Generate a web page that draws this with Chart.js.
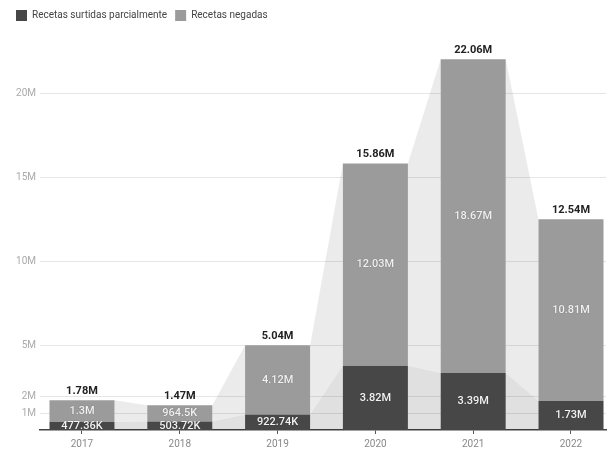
<!DOCTYPE html>
<html>
<head>
<meta charset="utf-8">
<script src="https://cdn.jsdelivr.net/npm/chart.js@4/dist/chart.umd.min.js"></script>
<style>
  html, body { margin: 0; padding: 0; background: #fff; }
  #wrap { width: 611px; height: 453px; position: relative; }
</style>
</head>
<body>
<div id="wrap"><canvas id="c"></canvas></div>
<script>
const categories = ['2017', '2018', '2019', '2020', '2021', '2022'];
const seriesNames = ['Recetas surtidas parcialmente', 'Recetas negadas'];
const parcial = [477360, 503720, 922740, 3824000, 3390000, 1730000];
const negadas = [1300000, 964500, 4120000, 12034000, 18670000, 10810000];
const yTickValues = [1000000, 2000000, 5000000, 10000000, 15000000, 20000000];

function fmt(v) {
  if (v >= 1e6) return parseFloat((v / 1e6).toFixed(2)) + 'M';
  if (v >= 1e3) return parseFloat((v / 1e3).toFixed(2)) + 'K';
  return String(v);
}

const FONT = 'Roboto, "Noto Sans", sans-serif';

const connectorPlugin = {
  id: 'connectors',
  beforeDatasetsDraw(chart) {
    const ctx = chart.ctx;
    const fills = ['rgba(0,0,0,0.12)', 'rgba(0,0,0,0.08)'];
    ctx.save();
    chart.data.datasets.forEach((ds, d) => {
      const meta = chart.getDatasetMeta(d);
      ctx.fillStyle = fills[d];
      for (let i = 0; i < meta.data.length - 1; i++) {
        const a = meta.data[i], b = meta.data[i + 1];
        const ax = a.x + a.width / 2, bx = b.x - b.width / 2;
        ctx.beginPath();
        ctx.moveTo(ax, a.y);
        ctx.lineTo(bx, b.y);
        ctx.lineTo(bx, b.base);
        ctx.lineTo(ax, a.base);
        ctx.closePath();
        ctx.fill();
      }
    });
    ctx.restore();
  }
};

const labelPlugin = {
  id: 'barLabels',
  afterDatasetsDraw(chart) {
    const ctx = chart.ctx;
    ctx.save();
    ctx.textAlign = 'center';
    ctx.textBaseline = 'middle';
    chart.data.datasets.forEach((ds, d) => {
      const meta = chart.getDatasetMeta(d);
      meta.data.forEach((el, i) => {
        const v = ds.data[i].y;
        ctx.font = '500 11px ' + FONT;
        ctx.fillStyle = '#f2f2f2';
        ctx.shadowColor = 'rgba(0,0,0,0.35)';
        ctx.shadowBlur = 1;
        ctx.fillText(fmt(v), el.x, (el.y + el.base) / 2);
      });
    });
    ctx.shadowBlur = 0;
    ctx.shadowColor = 'transparent';
    const top = chart.getDatasetMeta(1);
    top.data.forEach((el, i) => {
      const total = parcial[i] + negadas[i];
      ctx.font = 'bold 11px ' + FONT;
      ctx.fillStyle = '#222';
      ctx.fillText(fmt(total), el.x, el.y - 9);
    });
    ctx.restore();
  }
};

new Chart(document.getElementById('c'), {
  type: 'bar',
  data: {
    datasets: [
      {
        label: seriesNames[0],
        data: parcial.map((v, i) => ({ x: i, y: v })),
        backgroundColor: '#474747',
        borderWidth: 0
      },
      {
        label: seriesNames[1],
        data: negadas.map((v, i) => ({ x: i, y: v })),
        backgroundColor: '#9b9b9b',
        borderWidth: 0
      }
    ]
  },
  options: {
    responsive: true,
    maintainAspectRatio: false,
    animation: false,
    layout: { padding: { left: 8, right: 5, top: 2, bottom: 0 } },
    datasets: { bar: { barPercentage: 0.665, categoryPercentage: 1 } },
    plugins: {
      tooltip: { enabled: false },
      legend: {
        position: 'top',
        align: 'start',
        labels: {
          boxWidth: 11,
          boxHeight: 11,
          padding: 8,
          color: '#444',
          font: { family: FONT, size: 10 }
        }
      }
    },
    scales: {
      x: {
        type: 'linear',
        stacked: true,
        offset: false,
        min: -0.4294,
        max: 5.358,
        afterBuildTicks(s) { s.ticks = categories.map((c, i) => ({ value: i })); },
        afterFit(s) { s.height = 23; },
        ticks: {
          callback: (v) => categories[v],
          color: '#888',
          font: { family: FONT, size: 10 },
          padding: 4,
          maxRotation: 0
        },
        grid: { offset: false, drawOnChartArea: false, drawTicks: true, tickLength: 4, color: '#555' },
        border: { display: true, color: '#444', width: 1.5 }
      },
      y: {
        stacked: true,
        min: 0,
        max: 23740000,
        afterBuildTicks(s) { s.ticks = yTickValues.map(v => ({ value: v })); },
        afterFit(s) { s.width = 32; },
        ticks: {
          callback: (v) => fmt(v),
          color: '#aaa',
          font: { family: FONT, size: 10 },
          padding: 4
        },
        grid: { color: '#e6e6e6', drawTicks: false },
        border: { display: false }
      }
    }
  },
  plugins: [connectorPlugin, labelPlugin]
});
</script>
</body>
</html>
